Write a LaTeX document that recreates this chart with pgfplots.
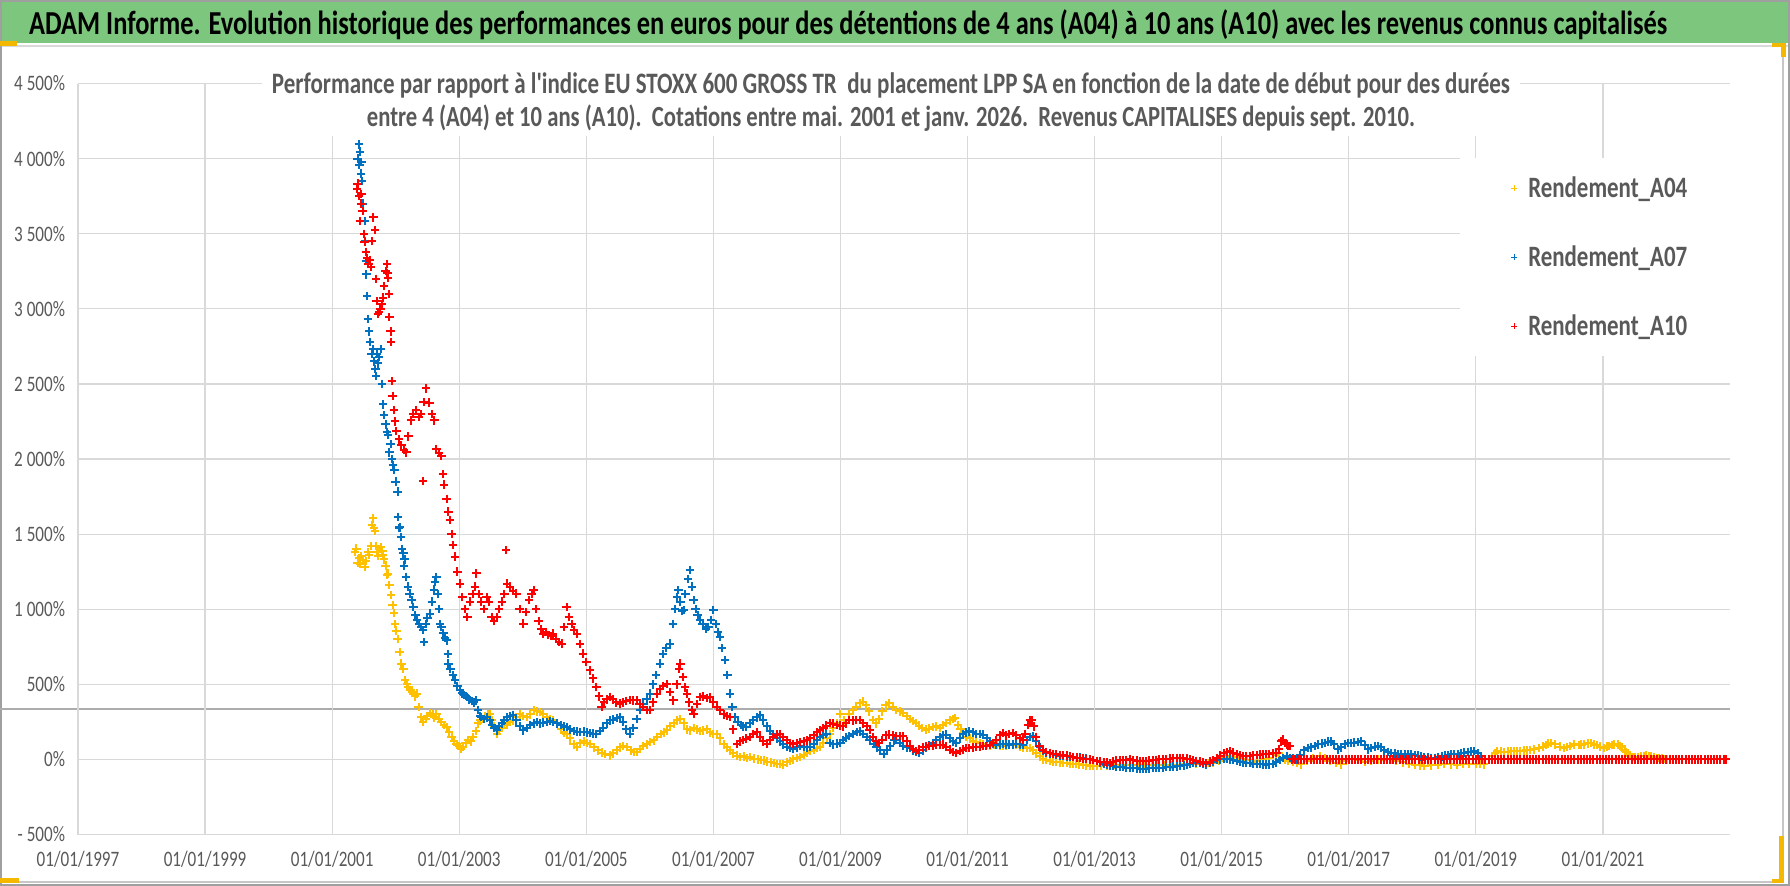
\documentclass[border=0pt]{standalone}
\usepackage{graphicx}
\usepackage{pgfplots}
\pgfplotsset{compat=1.18}
\usepackage{fontspec}
\setmainfont{Carlito}
\definecolor{cA}{HTML}{FFC000}
\definecolor{cB}{HTML}{0070C0}
\definecolor{cC}{HTML}{FF0000}
\definecolor{txt}{HTML}{595959}
\definecolor{grd}{HTML}{D9D9D9}
\definecolor{tgreen}{RGB}{125,198,126}
\definecolor{hand}{HTML}{F4B800}
\newcommand{\vs}[1]{\scalebox{1}[1.29]{#1}}
\newcommand{\legtxt}[1]{\scalebox{1}[1.29]{\resizebox{159bp}{!}{\bfseries #1}}}
\begin{document}
\begin{tikzpicture}
\useasboundingbox (0,0) rectangle (1790bp,-886bp);
\fill[white] (0,0) rectangle (1790bp,-886bp);
\fill[tgreen] (0,0) rectangle (1790bp,-43bp);
\draw[grd, line width=2.5bp] (0,-46bp) -- (1790bp,-46bp);
\draw[gray!45, line width=1.2bp] (1783bp,-47bp) -- (1783bp,-883bp);
\draw[gray!45, line width=1.2bp] (0,-882bp) -- (1783bp,-882bp);
\draw[gray!75, line width=2bp] (1bp,-1bp) rectangle (1789bp,-885bp);
\draw[gray!65, line width=1.5bp] (0,-709bp) -- (1730bp,-709bp);
\begin{axis}[
  at={(78bp,-834.5bp)}, anchor=south west,
  width=1652bp, height=751bp, scale only axis,
  xmin=1997, xmax=2023, ymin=-500, ymax=4500,
  axis line style={draw=none},
  tick style={draw=none},
  major tick length=0pt,
  xtick={1997,1999,2001,2003,2005,2007,2009,2011,2013,2015,2017,2019,2021},
  xticklabels={\vs{01/01/1997},\vs{01/01/1999},\vs{01/01/2001},\vs{01/01/2003},\vs{01/01/2005},\vs{01/01/2007},\vs{01/01/2009},\vs{01/01/2011},\vs{01/01/2013},\vs{01/01/2015},\vs{01/01/2017},\vs{01/01/2019},\vs{01/01/2021}},
  ytick={-500,0,500,1000,1500,2000,2500,3000,3500,4000,4500},
  yticklabels={\vs{- 500\%},\vs{0\%},\vs{500\%},\vs{1 000\%},\vs{1 500\%},\vs{2 000\%},\vs{2 500\%},\vs{3 000\%},\vs{3 500\%},\vs{4 000\%},\vs{4 500\%}},
  grid=major,
  grid style={color=grd, line width=1.2bp},
  tick label style={font=\fontsize{17.1bp}{20bp}\selectfont, text=txt},
  xticklabel style={yshift=-13bp},
  yticklabel style={xshift=-9.5bp},
  legend style={at={(0.8366,0.9008)}, anchor=north west, draw=none, fill=white,
    inner xsep=49bp, inner ysep=15bp, row sep=39bp, column sep=9bp,
    nodes={inner sep=0bp, minimum height=30bp},
    text=txt},
  legend cell align=left,
  legend image code/.code={\draw[#1, mark size=3bp, line width=1.1bp] plot coordinates {(0bp,0bp)}; \path (-4bp,0bp) (4bp,0bp);},
]
\addplot[only marks, mark=+, color=cA, mark size=4.2bp, line width=2bp] coordinates {
(2001.36,1380)(2001.38,1403)(2001.40,1308)(2001.42,1340)(2001.44,1300)(2001.46,1356)(2001.48,1330)(2001.51,1284)(2001.53,1320)(2001.56,1380)
(2001.58,1360)(2001.61,1420)(2001.63,1560)(2001.64,1605)(2001.66,1540)(2001.67,1522)(2001.69,1420)(2001.70,1380)(2001.72,1356)(2001.74,1400)
(2001.77,1415)(2001.79,1390)(2001.80,1360)(2001.82,1332)(2001.84,1290)(2001.86,1230)(2001.88,1237)(2001.90,1160)(2001.93,1095)(2001.95,1030)
(2001.97,976)(2001.99,900)(2002.01,858)(2002.03,800)(2002.06,716)(2002.09,638)(2002.12,600)(2002.15,530)(2002.18,500)(2002.20,482)
(2002.23,460)(2002.26,450)(2002.30,420)(2002.33,438)(2002.36,350)(2002.40,280)(2002.43,249)(2002.47,270)(2002.50,290)(2002.54,310)
(2002.58,300)(2002.61,280)(2002.64,304)(2002.68,270)(2002.72,250)(2002.76,230)(2002.80,216)(2002.84,180)(2002.88,150)(2002.92,120)
(2002.96,100)(2003.00,90)(2003.03,70)(2003.06,82)(2003.10,110)(2003.14,130)(2003.18,120)(2003.22,149)(2003.26,190)(2003.30,240)
(2003.33,260)(2003.37,270)(2003.41,290)(2003.45,300)(2003.48,304)(2003.52,260)(2003.55,220)(2003.59,171)(2003.63,190)(2003.67,210)
(2003.71,240)(2003.75,230)(2003.80,250)(2003.85,260)(2003.90,280)(2003.95,300)(2004.00,290)(2004.06,282)(2004.12,300)(2004.18,330)
(2004.22,320)(2004.27,316)(2004.32,300)(2004.38,280)(2004.43,270)(2004.48,260)(2004.54,240)(2004.60,200)(2004.65,180)(2004.69,171)
(2004.74,140)(2004.80,100)(2004.85,82)(2004.90,110)(2004.96,120)(2005.01,110)(2005.06,104)(2005.12,80)(2005.18,60)(2005.24,45)
(2005.30,35)(2005.37,27)(2005.42,40)(2005.48,60)(2005.53,80)(2005.58,90)(2005.64,82)(2005.70,60)(2005.75,50)(2005.79,49)
(2005.84,70)(2005.90,90)(2005.95,100)(2006.01,115)(2006.06,127)(2006.12,150)(2006.17,170)(2006.22,180)(2006.27,193)(2006.32,220)
(2006.38,240)(2006.43,260)(2006.48,271)(2006.53,240)(2006.58,200)(2006.63,193)(2006.69,210)(2006.74,200)(2006.79,190)(2006.84,193)
(2006.90,200)(2006.95,180)(2007.00,171)(2007.05,171)(2007.10,140)(2007.16,100)(2007.21,80)(2007.26,60)(2007.31,40)(2007.37,25)
(2007.42,16)(2007.48,20)(2007.53,10)(2007.58,15)(2007.64,5)(2007.70,0)(2007.75,-5)(2007.79,-7)(2007.85,-15)(2007.90,-20)
(2007.95,-25)(2008.00,-30)(2008.05,-29)(2008.10,-35)(2008.16,-20)(2008.21,-10)(2008.26,0)(2008.31,10)(2008.36,16)(2008.42,30)
(2008.47,45)(2008.52,55)(2008.58,65)(2008.63,75)(2008.68,82)(2008.73,110)(2008.79,140)(2008.84,171)(2008.89,210)(2008.94,240)
(2009.00,304)(2009.05,260)(2009.09,242)(2009.14,300)(2009.20,330)(2009.25,350)(2009.30,375)(2009.35,385)(2009.40,360)(2009.45,320)
(2009.51,264)(2009.56,240)(2009.61,270)(2009.66,320)(2009.71,360)(2009.77,374)(2009.82,350)(2009.88,330)(2009.93,320)(2009.98,308)
(2010.04,290)(2010.09,270)(2010.14,255)(2010.19,242)(2010.24,225)(2010.29,210)(2010.35,198)(2010.40,205)(2010.45,215)(2010.51,220)
(2010.56,210)(2010.61,230)(2010.66,242)(2010.72,260)(2010.77,270)(2010.80,275)(2010.85,230)(2010.89,200)(2010.93,176)(2010.98,150)
(2011.04,140)(2011.09,120)(2011.14,115)(2011.19,110)(2011.25,100)(2011.30,95)(2011.35,90)(2011.41,95)(2011.46,100)(2011.51,92)
(2011.56,88)(2011.61,90)(2011.66,95)(2011.72,100)(2011.77,95)(2011.82,85)(2011.88,80)(2011.93,78)(2011.98,77)(2012.03,60)
(2012.08,40)(2012.14,20)(2012.19,0)(2012.24,-5)(2012.30,-10)(2012.35,-15)(2012.40,-18)(2012.45,-20)(2012.50,-22)(2012.56,-25)
(2012.61,-28)(2012.66,-30)(2012.71,-32)(2012.76,-33)(2012.82,-38)(2012.87,-40)(2012.92,-42)(2012.97,-44)(2013.03,-44)(2013.10,-42)
(2013.20,-40)(2013.30,-38)(2013.40,-37)(2013.50,-36)(2013.60,-38)(2013.70,-40)(2013.80,-38)(2013.90,-36)(2014.00,-35)(2014.10,-36)
(2014.20,-38)(2014.30,-35)(2014.40,-33)(2014.50,-30)(2014.60,-30)(2014.70,-28)(2014.80,-25)(2014.86,-22)(2014.95,-10)(2015.05,10)
(2015.13,22)(2015.20,15)(2015.30,5)(2015.40,-5)(2015.47,-22)(2015.55,-10)(2015.65,0)(2015.75,10)(2015.85,30)(2015.90,44)
(2015.99,0)(2016.05,-10)(2016.12,-15)(2016.18,-22)(2016.25,-33)(2016.35,-10)(2016.44,10)(2016.55,22)(2016.62,10)(2016.70,-10)
(2016.80,-25)(2016.88,-33)(2016.95,-10)(2017.05,0)(2017.15,-5)(2017.25,-15)(2017.35,-10)(2017.46,0)(2017.55,-5)(2017.66,0)
(2017.75,-10)(2017.85,-20)(2017.95,-30)(2018.05,-35)(2018.12,-40)(2018.19,-44)(2018.30,-40)(2018.40,-35)(2018.50,-30)(2018.61,-33)
(2018.70,-35)(2018.80,-30)(2018.90,-28)(2019.00,-30)(2019.07,-32)(2019.13,-33)(2019.20,0)(2019.25,20)(2019.30,40)(2019.34,55)
(2019.40,52)(2019.45,50)(2019.50,52)(2019.55,55)(2019.60,54)(2019.65,55)(2019.70,57)(2019.75,58)(2019.80,60)(2019.85,62)
(2019.92,66)(2020.00,75)(2020.05,85)(2020.10,95)(2020.14,105)(2020.18,110)(2020.25,100)(2020.32,85)(2020.39,77)(2020.44,84)
(2020.48,90)(2020.55,100)(2020.62,95)(2020.66,98)(2020.70,100)(2020.76,106)(2020.81,110)(2020.86,100)(2020.90,95)(2020.96,85)
(2021.02,77)(2021.06,85)(2021.10,90)(2021.14,96)(2021.18,100)(2021.23,99)(2021.27,90)(2021.30,80)(2021.34,65)(2021.37,50)
(2021.40,35)(2021.43,22)(2021.47,18)(2021.50,15)(2021.55,18)(2021.60,20)(2021.64,22)(2021.68,25)(2021.72,24)(2021.75,22)
(2021.80,15)(2021.85,10)(2021.89,8)(2021.93,5)(2021.97,2)(2022.01,0)
};
\addlegendentry{\legtxt{Rendement\_A04}}
\addplot[only marks, mark=+, color=cB, mark size=4.2bp, line width=2bp] coordinates {
(2001.40,4000)(2001.42,4095)(2001.43,3960)(2001.44,4047)(2001.45,3900)(2001.46,3976)(2001.47,3850)(2001.49,3700)(2001.51,3585)(2001.52,3450)
(2001.53,3320)(2001.54,3229)(2001.55,3087)(2001.56,2933)(2001.58,2850)(2001.60,2780)(2001.62,2700)(2001.64,2731)(2001.66,2650)(2001.68,2600)
(2001.69,2553)(2001.71,2700)(2001.72,2636)(2001.74,2680)(2001.77,2731)(2001.78,2500)(2001.80,2364)(2001.82,2293)(2001.84,2230)(2001.86,2180)
(2001.88,2162)(2001.90,2044)(2001.92,2100)(2001.94,2000)(2001.96,1960)(2001.98,1925)(2002.00,1850)(2002.03,1783)(2002.04,1615)(2002.05,1540)
(2002.06,1545)(2002.08,1482)(2002.10,1400)(2002.12,1371)(2002.13,1290)(2002.14,1332)(2002.16,1215)(2002.19,1150)(2002.22,1104)(2002.25,1060)
(2002.28,1015)(2002.31,960)(2002.34,930)(2002.37,900)(2002.40,880)(2002.43,860)(2002.45,780)(2002.47,900)(2002.50,940)(2002.54,971)
(2002.57,1050)(2002.60,1130)(2002.62,1180)(2002.64,1215)(2002.66,1100)(2002.68,1000)(2002.70,900)(2002.72,882)(2002.75,840)(2002.78,810)
(2002.80,793)(2002.82,700)(2002.83,638)(2002.86,600)(2002.90,560)(2002.93,527)(2002.97,490)(2003.01,460)(2003.05,440)(2003.08,430)
(2003.12,416)(2003.16,400)(2003.20,390)(2003.23,380)(2003.27,393)(2003.30,330)(2003.33,290)(2003.35,282)(2003.39,270)(2003.43,280)
(2003.48,260)(2003.52,230)(2003.55,210)(2003.59,193)(2003.63,220)(2003.67,240)(2003.71,260)(2003.75,280)(2003.80,290)(2003.85,293)
(2003.90,260)(2003.95,220)(2004.01,193)(2004.06,210)(2004.12,230)(2004.17,240)(2004.22,249)(2004.27,240)(2004.32,245)(2004.38,250)
(2004.43,255)(2004.48,249)(2004.54,240)(2004.60,230)(2004.65,220)(2004.69,216)(2004.75,200)(2004.80,190)(2004.85,185)(2004.90,182)
(2004.96,185)(2005.01,180)(2005.06,175)(2005.11,172)(2005.16,171)(2005.21,190)(2005.26,210)(2005.32,240)(2005.37,260)(2005.42,265)
(2005.48,275)(2005.53,282)(2005.58,250)(2005.63,200)(2005.69,171)(2005.74,210)(2005.79,270)(2005.85,327)(2005.90,370)(2005.95,400)
(2006.00,438)(2006.05,500)(2006.10,560)(2006.16,638)(2006.21,700)(2006.26,740)(2006.32,771)(2006.36,900)(2006.40,1000)(2006.43,1080)
(2006.45,1127)(2006.48,1050)(2006.51,990)(2006.53,993)(2006.56,1100)(2006.60,1200)(2006.63,1260)(2006.66,1150)(2006.69,1060)(2006.72,1000)
(2006.75,960)(2006.79,927)(2006.83,900)(2006.88,870)(2006.92,882)(2006.96,930)(2007.00,993)(2007.04,900)(2007.07,850)(2007.10,816)
(2007.14,740)(2007.18,660)(2007.22,560)(2007.26,438)(2007.30,350)(2007.34,282)(2007.38,250)(2007.43,230)(2007.47,220)(2007.52,216)
(2007.57,240)(2007.62,260)(2007.68,280)(2007.73,293)(2007.78,260)(2007.84,220)(2007.89,190)(2007.94,171)(2008.00,140)(2008.05,120)
(2008.10,100)(2008.16,85)(2008.21,75)(2008.26,71)(2008.31,80)(2008.36,90)(2008.42,85)(2008.47,80)(2008.52,82)(2008.58,100)
(2008.63,130)(2008.68,150)(2008.73,165)(2008.78,171)(2008.83,110)(2008.88,100)(2008.94,105)(2009.00,110)(2009.04,130)(2009.09,145)
(2009.14,154)(2009.20,170)(2009.26,182)(2009.30,187)(2009.35,170)(2009.41,150)(2009.46,132)(2009.52,104)(2009.57,80)(2009.62,60)
(2009.68,38)(2009.73,60)(2009.78,90)(2009.84,127)(2009.88,132)(2009.93,110)(2009.98,90)(2010.04,80)(2010.09,77)(2010.14,60)
(2010.19,50)(2010.24,44)(2010.30,60)(2010.35,80)(2010.40,95)(2010.45,110)(2010.51,130)(2010.56,150)(2010.61,160)(2010.66,165)
(2010.72,140)(2010.77,120)(2010.82,110)(2010.88,140)(2010.93,170)(2010.98,180)(2011.03,187)(2011.09,180)(2011.14,170)(2011.19,168)
(2011.24,165)(2011.30,140)(2011.35,120)(2011.40,105)(2011.45,99)(2011.51,100)(2011.56,102)(2011.61,100)(2011.66,99)(2011.72,100)
(2011.77,102)(2011.82,100)(2011.87,99)(2011.93,130)(2011.98,150)(2012.03,154)(2012.08,120)(2012.14,80)(2012.19,55)(2012.24,45)
(2012.30,40)(2012.35,35)(2012.40,30)(2012.45,25)(2012.50,22)(2012.56,20)(2012.61,18)(2012.66,15)(2012.72,12)(2012.77,12)
(2012.82,11)(2012.87,5)(2012.92,0)(2012.98,-5)(2013.03,-11)(2013.08,-20)(2013.14,-28)(2013.19,-35)(2013.24,-40)(2013.29,-44)
(2013.34,-48)(2013.40,-50)(2013.45,-52)(2013.50,-55)(2013.55,-57)(2013.60,-58)(2013.66,-60)(2013.71,-61)(2013.76,-62)(2013.81,-62)
(2013.86,-60)(2013.92,-58)(2013.97,-57)(2014.02,-55)(2014.08,-55)(2014.13,-52)(2014.18,-50)(2014.24,-48)(2014.29,-46)(2014.34,-44)
(2014.40,-40)(2014.45,-35)(2014.50,-30)(2014.55,-25)(2014.60,-22)(2014.66,-25)(2014.71,-30)(2014.76,-33)(2014.82,-25)(2014.87,-15)
(2014.92,-5)(2014.97,0)(2015.03,5)(2015.08,3)(2015.13,0)(2015.18,-5)(2015.24,-10)(2015.29,-15)(2015.34,-20)(2015.39,-22)
(2015.45,-25)(2015.50,-28)(2015.55,-30)(2015.60,-32)(2015.65,-33)(2015.70,-35)(2015.75,-33)(2015.80,-30)(2015.86,-20)(2015.91,-5)
(2015.96,10)(2016.02,22)(2016.07,10)(2016.12,5)(2016.18,0)(2016.24,30)(2016.30,60)(2016.36,77)(2016.41,80)(2016.47,90)
(2016.52,100)(2016.58,105)(2016.63,110)(2016.68,118)(2016.72,120)(2016.77,100)(2016.83,66)(2016.88,80)(2016.94,100)(2016.99,110)
(2017.04,110)(2017.09,112)(2017.14,115)(2017.19,120)(2017.25,95)(2017.30,66)(2017.35,75)(2017.41,85)(2017.46,88)(2017.51,80)
(2017.56,60)(2017.61,50)(2017.66,44)(2017.72,40)(2017.77,38)(2017.82,36)(2017.88,35)(2017.93,34)(2017.98,33)(2018.04,30)
(2018.09,25)(2018.14,20)(2018.19,15)(2018.25,12)(2018.30,10)(2018.35,11)(2018.40,15)(2018.46,20)(2018.51,25)(2018.56,30)
(2018.61,33)(2018.66,35)(2018.72,38)(2018.77,40)(2018.82,45)(2018.87,50)(2018.92,52)(2018.97,55)(2019.03,40)(2019.08,22)
};
\addlegendentry{\legtxt{Rendement\_A07}}
\addplot[only marks, mark=+, color=cC, mark size=4.2bp, line width=2bp] coordinates {
(2001.39,3800)(2001.40,3834)(2001.42,3750)(2001.44,3585)(2001.45,3700)(2001.46,3763)(2001.48,3650)(2001.50,3500)(2001.51,3443)(2001.53,3380)
(2001.55,3340)(2001.57,3300)(2001.59,3324)(2001.61,3280)(2001.63,3450)(2001.65,3609)(2001.67,3526)(2001.69,3200)(2001.70,3050)(2001.72,2968)
(2001.74,2980)(2001.76,3000)(2001.78,3030)(2001.80,3075)(2001.82,3150)(2001.84,3250)(2001.86,3300)(2001.87,3240)(2001.88,3206)(2001.89,3100)
(2001.90,2945)(2001.92,2850)(2001.93,2779)(2001.94,2518)(2001.95,2420)(2001.97,2328)(2001.99,2250)(2002.01,2186)(2002.05,2130)(2002.09,2091)
(2002.13,2060)(2002.17,2044)(2002.20,2150)(2002.24,2257)(2002.28,2300)(2002.32,2328)(2002.36,2280)(2002.40,2300)(2002.43,1854)(2002.44,2380)
(2002.48,2470)(2002.53,2376)(2002.57,2300)(2002.61,2257)(2002.64,2067)(2002.68,2040)(2002.72,2020)(2002.74,1900)(2002.76,1830)(2002.80,1735)
(2002.83,1650)(2002.85,1593)(2002.88,1500)(2002.90,1427)(2002.93,1350)(2002.97,1250)(2003.01,1171)(2003.05,1080)(2003.09,1000)(2003.13,950)
(2003.17,1050)(2003.21,1100)(2003.25,1150)(2003.27,1238)(2003.31,1100)(2003.35,1050)(2003.39,1000)(2003.43,1080)(2003.47,1050)(2003.51,950)
(2003.55,920)(2003.59,949)(2003.63,1000)(2003.67,1050)(2003.71,1100)(2003.74,1393)(2003.75,1170)(2003.80,1150)(2003.85,1120)(2003.90,1104)
(2003.95,1000)(2004.01,904)(2004.05,980)(2004.10,1060)(2004.14,1100)(2004.17,1127)(2004.21,1000)(2004.25,920)(2004.29,870)(2004.32,838)
(2004.36,850)(2004.40,830)(2004.44,820)(2004.48,838)(2004.52,800)(2004.57,780)(2004.61,771)(2004.65,880)(2004.69,1015)(2004.73,950)
(2004.77,900)(2004.81,860)(2004.85,838)(2004.90,770)(2004.95,704)(2005.00,650)(2005.06,593)(2005.11,540)(2005.16,482)(2005.20,420)
(2005.24,349)(2005.28,380)(2005.32,400)(2005.37,416)(2005.42,400)(2005.47,380)(2005.53,371)(2005.58,380)(2005.63,390)(2005.68,395)
(2005.74,393)(2005.79,393)(2005.84,370)(2005.90,350)(2005.95,330)(2006.00,327)(2006.05,380)(2006.11,438)(2006.16,470)(2006.21,490)
(2006.27,504)(2006.32,450)(2006.37,393)(2006.42,500)(2006.46,600)(2006.48,638)(2006.52,550)(2006.55,480)(2006.58,438)(2006.62,380)
(2006.66,330)(2006.69,304)(2006.74,370)(2006.79,416)(2006.84,420)(2006.90,410)(2006.95,416)(2007.00,380)(2007.05,350)(2007.10,327)
(2007.16,300)(2007.21,290)(2007.26,282)(2007.31,200)(2007.37,104)(2007.42,120)(2007.47,130)(2007.52,138)(2007.57,150)(2007.62,170)
(2007.68,182)(2007.73,150)(2007.78,120)(2007.84,104)(2007.89,130)(2007.94,150)(2008.00,165)(2008.05,171)(2008.10,150)(2008.16,130)
(2008.21,110)(2008.26,104)(2008.31,110)(2008.36,115)(2008.42,120)(2008.47,127)(2008.52,140)(2008.58,160)(2008.63,180)(2008.68,193)
(2008.73,210)(2008.78,225)(2008.83,242)(2008.89,238)(2008.94,230)(2009.00,225)(2009.04,220)(2009.09,240)(2009.14,264)(2009.20,260)
(2009.25,262)(2009.30,264)(2009.35,240)(2009.41,220)(2009.46,198)(2009.51,150)(2009.56,120)(2009.61,110)(2009.66,130)(2009.72,160)
(2009.77,165)(2009.82,160)(2009.88,155)(2009.93,155)(2009.98,154)(2010.04,120)(2010.09,90)(2010.14,70)(2010.19,55)(2010.24,65)
(2010.30,80)(2010.35,85)(2010.40,88)(2010.45,92)(2010.51,95)(2010.56,97)(2010.61,99)(2010.66,85)(2010.72,65)(2010.77,50)
(2010.82,44)(2010.88,55)(2010.93,65)(2010.98,75)(2011.03,77)(2011.09,80)(2011.14,82)(2011.19,85)(2011.24,88)(2011.29,88)
(2011.35,95)(2011.40,110)(2011.45,130)(2011.51,160)(2011.56,176)(2011.61,160)(2011.66,170)(2011.71,176)(2011.77,160)(2011.82,140)
(2011.87,132)(2011.91,170)(2011.95,230)(2011.98,264)(2012.01,260)(2012.04,220)(2012.08,150)(2012.13,88)(2012.18,65)(2012.24,50)
(2012.29,44)(2012.35,38)(2012.40,35)(2012.45,30)(2012.50,28)(2012.56,25)(2012.61,22)(2012.66,18)(2012.72,12)(2012.77,8)
(2012.82,5)(2012.87,3)(2012.92,0)(2012.98,-5)(2013.03,-10)(2013.08,-15)(2013.14,-18)(2013.19,-20)(2013.24,-22)(2013.29,-15)
(2013.34,-8)(2013.40,-5)(2013.45,-3)(2013.50,-2)(2013.55,0)(2013.60,-5)(2013.66,-8)(2013.71,-10)(2013.76,-11)(2013.81,-11)
(2013.86,-8)(2013.92,-5)(2013.97,-2)(2014.02,0)(2014.08,0)(2014.13,2)(2014.18,5)(2014.24,8)(2014.29,10)(2014.34,11)
(2014.39,11)(2014.45,5)(2014.50,0)(2014.55,-5)(2014.60,-10)(2014.66,-15)(2014.71,-20)(2014.76,-22)(2014.82,-15)(2014.87,-5)
(2014.92,10)(2014.97,25)(2015.03,40)(2015.08,50)(2015.13,55)(2015.18,45)(2015.24,35)(2015.29,28)(2015.34,24)(2015.39,22)
(2015.45,24)(2015.50,27)(2015.55,30)(2015.60,32)(2015.65,33)(2015.70,35)(2015.75,38)(2015.80,40)(2015.86,44)(2015.90,70)
(2015.93,120)(2015.96,132)(2015.99,110)(2016.02,100)(2016.05,90)(2016.07,88)
(2016.10,0)(2016.15,0)(2016.20,0)(2016.25,0)(2016.30,0)(2016.35,0)(2016.40,0)(2016.45,0)(2016.50,0)(2016.55,0)
(2016.60,0)(2016.65,0)(2016.70,0)(2016.75,0)(2016.80,0)(2016.85,0)(2016.90,0)(2016.95,0)
(2017.00,0)(2017.05,0)(2017.10,0)(2017.15,0)(2017.20,0)(2017.25,0)(2017.30,0)(2017.35,0)(2017.40,0)(2017.45,0)
(2017.50,0)(2017.55,0)(2017.60,0)(2017.65,0)(2017.70,0)(2017.75,0)(2017.80,0)(2017.85,0)(2017.90,0)(2017.95,0)
(2018.00,0)(2018.05,0)(2018.10,0)(2018.15,0)(2018.20,0)(2018.25,0)(2018.30,0)(2018.35,0)(2018.40,0)(2018.45,0)
(2018.50,0)(2018.55,0)(2018.60,0)(2018.65,0)(2018.70,0)(2018.75,0)(2018.80,0)(2018.85,0)(2018.90,0)(2018.95,0)
(2019.00,0)(2019.05,0)(2019.10,0)(2019.15,0)(2019.20,0)(2019.25,0)(2019.30,0)(2019.35,0)(2019.40,0)(2019.45,0)
(2019.50,0)(2019.55,0)(2019.60,0)(2019.65,0)(2019.70,0)(2019.75,0)(2019.80,0)(2019.85,0)(2019.90,0)(2019.95,0)
(2020.00,0)(2020.05,0)(2020.10,0)(2020.15,0)(2020.20,0)(2020.25,0)(2020.30,0)(2020.35,0)(2020.40,0)(2020.45,0)
(2020.50,0)(2020.55,0)(2020.60,0)(2020.65,0)(2020.70,0)(2020.75,0)(2020.80,0)(2020.85,0)(2020.90,0)(2020.95,0)
(2021.00,0)(2021.05,0)(2021.10,0)(2021.15,0)(2021.20,0)(2021.25,0)(2021.30,0)(2021.35,0)(2021.40,0)(2021.45,0)
(2021.50,0)(2021.55,0)(2021.60,0)(2021.65,0)(2021.70,0)(2021.75,0)(2021.80,0)(2021.85,0)(2021.90,0)(2021.95,0)
(2022.00,0)(2022.05,0)(2022.10,0)(2022.15,0)(2022.20,0)(2022.25,0)(2022.30,0)(2022.35,0)(2022.40,0)(2022.45,0)
(2022.50,0)(2022.55,0)(2022.60,0)(2022.65,0)(2022.70,0)(2022.75,0)(2022.80,0)(2022.85,0)(2022.90,0)(2022.94,0)
};
\addlegendentry{\legtxt{Rendement\_A10}}
\end{axis}
\node[anchor=base west, inner sep=0, text=black] at (29bp,-35bp)
  {\scalebox{1}[1.27]{\resizebox{1638bp}{!}{\bfseries ADAM Informe. Evolution historique des performances en euros pour des détentions de 4 ans (A04) à 10 ans (A10) avec les revenus connus capitalisés}}};
\node[fill=white, inner xsep=10bp, inner ysep=5bp, align=center, text=txt,
  font=\fontsize{22bp}{33bp}\selectfont\bfseries] at (891bp,-102bp)
  {\vs{\resizebox{1238bp}{!}{Performance par rapport à l\textquotesingle indice EU STOXX 600 GROSS TR\ \ du placement LPP SA en fonction de la date de début pour des durées}}\\
   \vs{\resizebox{1048bp}{!}{entre 4 (A04) et 10 ans (A10).\ \ Cotations entre mai. 2001 et janv. 2026.\ \ Revenus CAPITALISES depuis sept. 2010.}}};
% selection handles
\fill[hand] (0,-41bp) rectangle (17bp,-46bp);
\fill[hand] (1772bp,-43bp) rectangle (1786bp,-47bp);
\fill[hand] (1781bp,-43bp) rectangle (1786bp,-57bp);
\fill[hand] (1779bp,-836bp) rectangle (1784bp,-883bp);
\fill[hand] (1772bp,-879bp) rectangle (1784bp,-883bp);
\fill[hand] (0,-878bp) rectangle (19bp,-883bp);
\end{tikzpicture}
\end{document}
